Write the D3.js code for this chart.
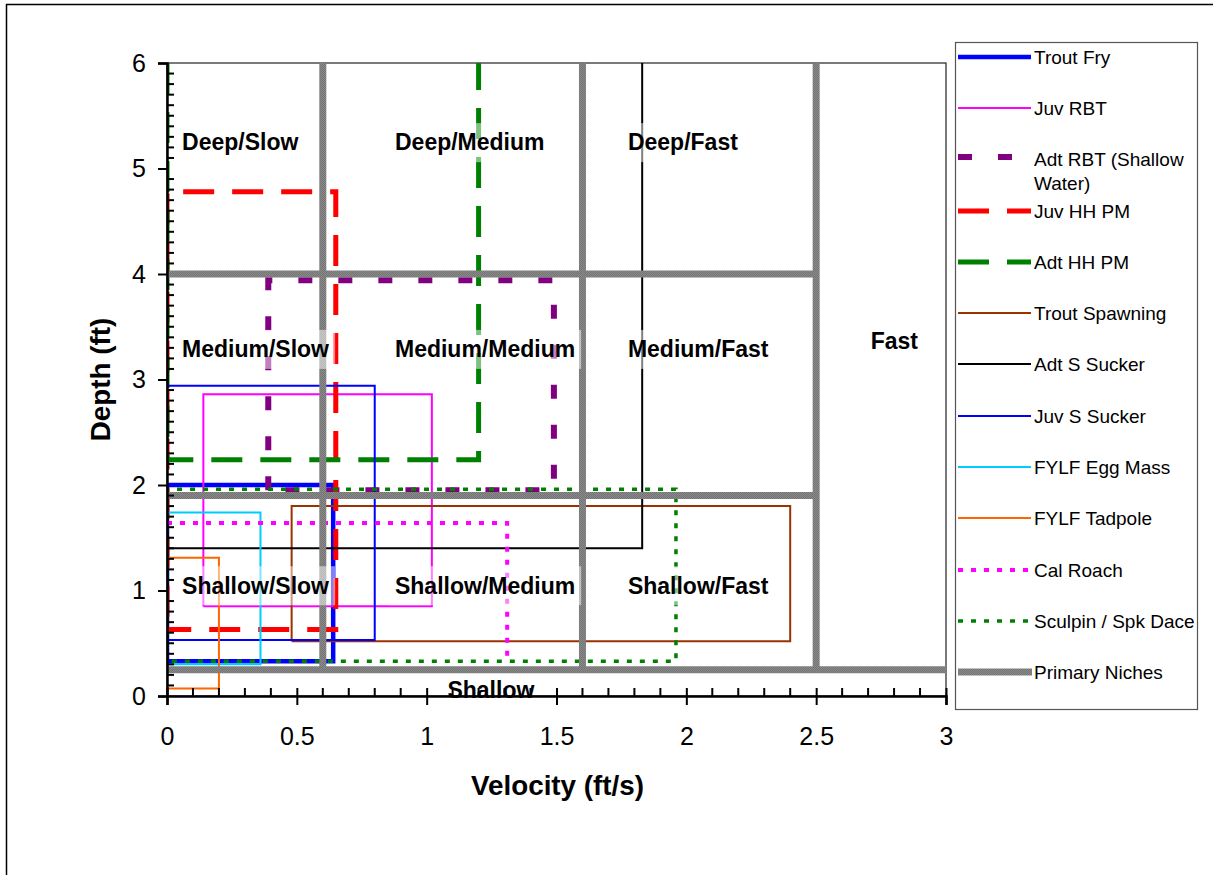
<!DOCTYPE html>
<html><head><meta charset="utf-8">
<script src="https://cdn.jsdelivr.net/npm/d3@7"></script>
<style>html,body{margin:0;padding:0;background:#fff;} svg{display:block;font-family:"Liberation Sans",Arial,sans-serif;}</style>
</head><body>
<script>
// ---------- DATA ----------
const seriesNames = ["Trout Fry","Juv RBT","Adt RBT (Shallow Water)","Juv HH PM","Adt HH PM","Trout Spawning","Adt S Sucker","Juv S Sucker","FYLF Egg Mass","FYLF Tadpole","Cal Roach","Sculpin / Spk Dace"];
const xLow  = [0,    0.14, 0.39, 0,    0,    0.48, 0,    0,    0,    0,    0,    0];
const xHigh = [0.64, 1.02, 1.49, 0.65, 1.2,  2.4,  1.83, 0.8,  0.36, 0.2,  1.31, 1.96];
const yLow  = [0.33, 0.85, 1.95, 0.63, 2.24, 0.52, 1.4,  0.53, 0.3,  0.07, 0.38, 0.33];
const yHigh = [2.0,  2.86, 3.94, 4.78, 6,    1.8,  6,    2.94, 1.74, 1.31, 1.64, 1.96];
// which sides of each box are drawn: "closed", "openTop" (top edge runs off the chart), "openBottom"
const shapeKind = ["closed","closed","closed","closed","openTop","closed","openTop","closed","closed","closed","openBottom","closed"];

// Primary niches
const nicheVX = [0.6, 1.6, 2.5];          // vertical lines at velocity
const nicheVY0 = [0.25, 0.25, 0.25];
const nicheVY1 = [6, 6, 6];
const nicheHY = [4, 1.9, 0.25];           // horizontal lines at depth
const nicheHX0 = [0, 0, 0];
const nicheHX1 = [2.5, 2.5, 3];

// Region labels
const regionLabels = ["Deep/Slow","Deep/Medium","Deep/Fast","Medium/Slow","Medium/Medium","Medium/Fast","Shallow/Slow","Shallow/Medium","Shallow/Fast","Fast","Shallow"];
const regionX = [0.058,0.878,1.775,0.058,0.878,1.775,0.058,0.878,1.775,2.71,1.08];
const regionY = [5.25,5.25,5.25,3.29,3.29,3.29,1.05,1.05,1.05,3.37,0.057];

const xTicks = [0,0.5,1,1.5,2,2.5,3];
const yTicks = [0,1,2,3,4,5,6];
const xTitle = "Velocity (ft/s)";
const yTitle = "Depth (ft)";

// ---------- STYLES ----------
const styles = [
  {color:"#0000FF", w:4.5, dash:null},
  {color:"#FF00FF", w:2, dash:null},
  {color:"#800080", w:6, dash:"14,26"},
  {color:"#FF0000", w:5, dash:"31,18", off:36},
  {color:"#008000", w:5, dash:"31,18"},
  {color:"#993300", w:2, dash:null},
  {color:"#000000", w:2, dash:null},
  {color:"#0000FF", w:2, dash:null},
  {color:"#00CCFF", w:2, dash:null},
  {color:"#FF6600", w:2, dash:null},
  {color:"#FF00FF", w:4, dash:"5,8"},
  {color:"#008000", w:3.5, dash:"5,8"}
];

const W = 1213, H = 875;
const svg = d3.select("body").append("svg").attr("width",W).attr("height",H);
const defs = svg.append("defs");
const pat = defs.append("pattern").attr("id","gpat").attr("patternUnits","userSpaceOnUse").attr("width",2).attr("height",2);
pat.append("rect").attr("width",2).attr("height",2).attr("fill","#8a8a8a");
pat.append("rect").attr("width",1).attr("height",1).attr("fill","#747474");
pat.append("rect").attr("x",1).attr("y",1).attr("width",1).attr("height",1).attr("fill","#747474");

// chart border
svg.append("rect").attr("x",6.5).attr("y",4.5).attr("width",W+20).attr("height",H+20)
  .attr("fill","none").attr("stroke","#000").attr("stroke-width",1.5);

const L=167, R=946, T=63, B=696;
const x = d3.scaleLinear().domain([0,3]).range([L,R]);
const y = d3.scaleLinear().domain([0,6]).range([B,T]);

defs.append("clipPath").attr("id","plotclip").append("rect")
  .attr("x",L).attr("y",T).attr("width",R-L).attr("height",B-T+4);

// plot border
svg.append("rect").attr("x",L).attr("y",T).attr("width",R-L).attr("height",B-T)
  .attr("fill","none").attr("stroke","#222").attr("stroke-width",1.2);

const line = d3.line().x(d=>x(d[0])).y(d=>y(d[1]));
const g = svg.append("g").attr("clip-path","url(#plotclip)");
seriesNames.forEach((n,i)=>{
  const x0=xLow[i], x1=xHigh[i], y0=yLow[i], y1=yHigh[i];
  let pts;
  if (shapeKind[i]==="closed") pts = [[x0,y0],[x0,y1],[x1,y1],[x1,y0],[x0,y0]];
  else if (shapeKind[i]==="openTop") pts = [[x0,y1],[x0,y0],[x1,y0],[x1,y1]];
  else pts = [[x0,y1],[x1,y1],[x1,y0]];
  const s = styles[i];
  g.append("path").attr("d",line(pts)).attr("fill","none").attr("stroke",s.color)
    .attr("stroke-width",s.w).attr("stroke-dasharray",s.dash)
    .attr("stroke-dashoffset",s.off||0)
    .attr("stroke-linejoin","miter").attr("stroke-linecap","butt");
});

// primary niches
const ng = svg.append("g");
nicheVX.forEach((v,i)=>{
  ng.append("path").attr("d",line([[v,nicheVY0[i]],[v,nicheVY1[i]]]))
    .attr("stroke","url(#gpat)").attr("stroke-width",7).attr("fill","none");
});
nicheHY.forEach((v,i)=>{
  ng.append("path").attr("d",line([[nicheHX0[i],v],[nicheHX1[i],v]]))
    .attr("stroke","url(#gpat)").attr("stroke-width",7).attr("fill","none");
});

// region label boxes (semi-transparent) drawn beneath axes
const boxG = svg.append("g");

// axes
const ax = svg.append("g");
d3.range(0,61).forEach(k=>{
  const v=k/10;
  if (k%10!==0) ax.append("line").attr("x1",L).attr("x2",L+7).attr("y1",y(v)).attr("y2",y(v)).attr("stroke","#000").attr("stroke-width",2);
});
d3.range(0,31).forEach(k=>{
  const v=k/10;
  if (k%5!==0) ax.append("line").attr("x1",x(v)).attr("x2",x(v)).attr("y1",B).attr("y2",B-8).attr("stroke","#000").attr("stroke-width",2);
});
const yAxis = d3.axisLeft(y).tickValues(yTicks).tickSize(9).tickPadding(12).tickFormat(d3.format("d"));
const yg = svg.append("g").attr("transform",`translate(${L},0)`).call(yAxis);
const xAxis = d3.axisBottom(x).tickValues(xTicks).tickSize(9).tickPadding(22).tickFormat(d=>String(d));
const xg = svg.append("g").attr("transform",`translate(0,${B})`).call(xAxis);
[yg,xg].forEach(a=>{
  a.select(".domain").attr("stroke","#000").attr("stroke-width",2.5);
  a.selectAll(".tick line").attr("stroke","#000").attr("stroke-width",2);
  a.selectAll(".tick text").attr("font-size",25).attr("fill","#000").attr("font-family","Liberation Sans, Arial, sans-serif");
});
xg.selectAll(".tick line").attr("y1",-8);

// axis titles
svg.append("text").attr("x",(L+R)/2+1).attr("y",795).attr("text-anchor","middle")
  .attr("font-size",27.8).attr("font-weight","bold").text(xTitle);
svg.append("text").attr("transform",`translate(110,${(T+B)/2}) rotate(-90)`).attr("text-anchor","middle")
  .attr("font-size",27.8).attr("font-weight","bold").text(yTitle);

// region labels (text above axes)
const textsG = svg.append("g");
regionLabels.forEach((t,i)=>{
  const tx = textsG.append("text").attr("x",x(regionX[i])).attr("y",y(regionY[i])).attr("dy","0.36em")
    .attr("font-size",23).attr("font-weight","bold").attr("fill","#000").text(t);
  if (t!=="Shallow" && t!=="Fast") {
    const bb = tx.node().getBBox();
    boxG.append("rect").attr("x",bb.x-6).attr("y",y(regionY[i])-19).attr("width",bb.width+12).attr("height",39)
      .attr("fill","#fff").attr("fill-opacity",0.5);
  }
});

// legend
const leg = svg.append("g");
leg.append("rect").attr("x",955.5).attr("y",42.5).attr("width",242).attr("height",667)
  .attr("fill","#fff").attr("stroke","#555").attr("stroke-width",1.2);
const legNames = seriesNames.concat(["Primary Niches"]);
const legY = [57,108,157,211,262,313,364,416,467,518,570,621,672];
legNames.forEach((n,i)=>{
  const yy = legY[i];
  if (i<12){
    const s=styles[i];
    leg.append("line").attr("x1",958).attr("x2",1031).attr("y1",yy).attr("y2",yy)
      .attr("stroke",s.color).attr("stroke-width",s.w).attr("stroke-dasharray",s.dash);
  } else {
    leg.append("line").attr("x1",958).attr("x2",1032).attr("y1",yy).attr("y2",yy)
      .attr("stroke","url(#gpat)").attr("stroke-width",7);
  }
  if (n==="Adt RBT (Shallow Water)"){
    const t = leg.append("text").attr("x",1034).attr("y",yy+2).attr("dy","0.35em").attr("font-size",19);
    t.append("tspan").attr("x",1034).text("Adt RBT (Shallow");
    t.append("tspan").attr("x",1034).attr("dy","1.27em").text("Water)");
  } else {
    leg.append("text").attr("x",1034).attr("y",yy).attr("dy","0.35em").attr("font-size",19).text(n);
  }
});
</script>
</body></html>
